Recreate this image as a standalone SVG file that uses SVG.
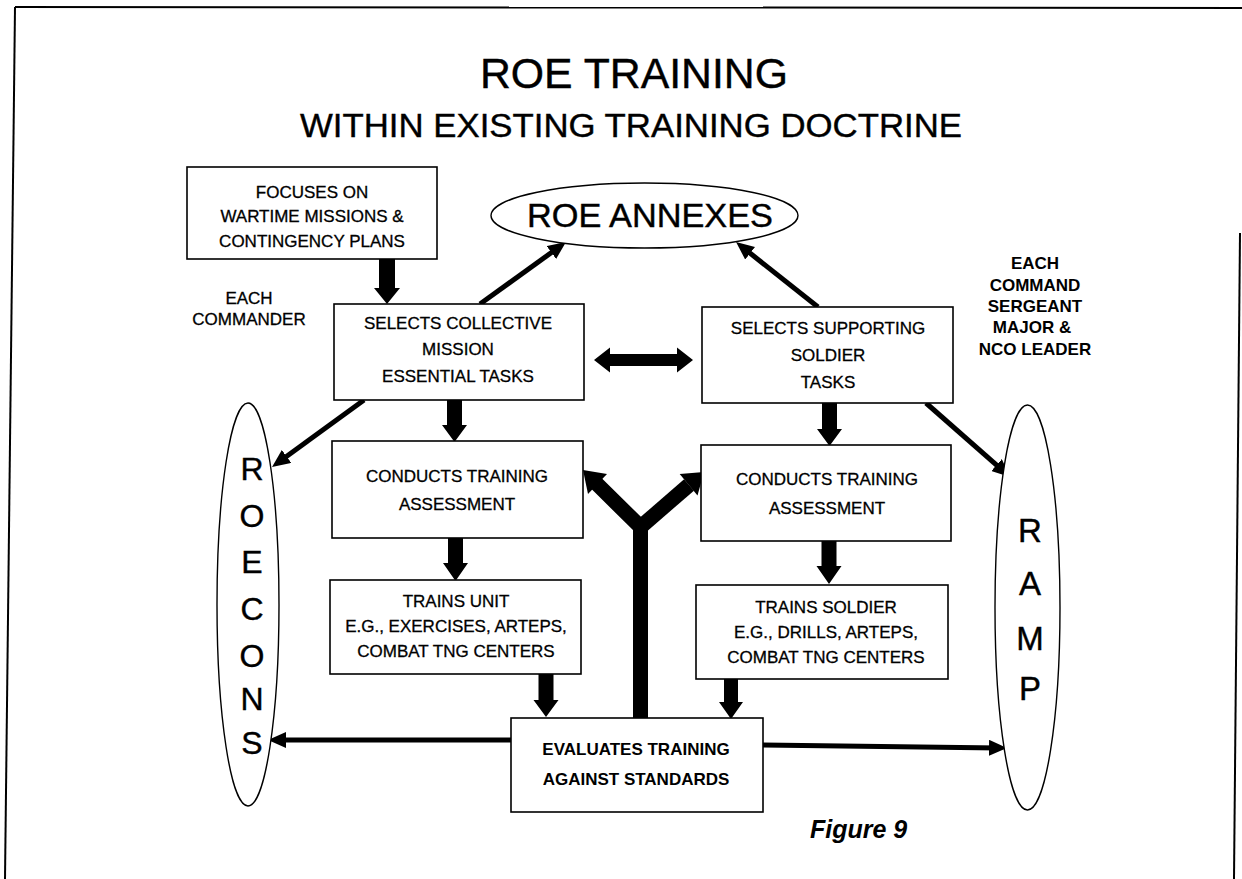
<svg xmlns="http://www.w3.org/2000/svg" width="1242" height="879" viewBox="0 0 1242 879">
  <style>
    .frame { fill: none; stroke: #000; stroke-width: 2; }
    .box { fill: #fff; stroke: #000; stroke-width: 1.6; }
    .oval { fill: #fff; stroke: #000; stroke-width: 1.4; }
    .t { font-family: "Liberation Sans", Arial, sans-serif; font-size: 17px; fill: #000; text-anchor: middle; stroke: #000; stroke-width: 0.3; }
    .tb { font-family: "Liberation Sans", Arial, sans-serif; font-size: 17px; font-weight: bold; fill: #000; text-anchor: middle; }
    .big { font-family: "Liberation Sans", Arial, sans-serif; fill: #000; text-anchor: middle; stroke: #000; stroke-width: 0.4; }
    .link { fill: none; stroke: #000; stroke-width: 5; marker-end: url(#head); }
    .block { fill: #000; stroke: none; }
    .thick { fill: none; stroke: #000; stroke-width: 15; stroke-linejoin: miter; }
  </style>
  <defs>
    <marker id="head" viewBox="0 0 18 16" refX="10" refY="8" markerWidth="18" markerHeight="16" markerUnits="userSpaceOnUse" orient="auto">
      <path d="M0,0 L18,8 L0,16 z" fill="#000"/>
    </marker>
  </defs>
  <rect width="1242" height="879" fill="#fff"/>

  <!-- page border -->
  <g id="border">
    <path class="frame" d="M15,7 L1242,8"/>
    <path class="frame" d="M15,7 L5,879"/>
    <path class="frame" d="M1240,233 L1234,879"/>
  </g>

  <!-- titles -->
  <g id="title">
    <text class="big" x="634" y="88" font-size="43" textLength="308" lengthAdjust="spacingAndGlyphs">ROE TRAINING</text>
    <text class="big" x="631" y="137" font-size="34" textLength="662" lengthAdjust="spacingAndGlyphs">WITHIN EXISTING TRAINING DOCTRINE</text>
  </g>

  <!-- connectors -->
  <g id="connectors">
    <!-- thin arrows -->
    <path class="link" d="M480,304 L559.5,246.7"/>
    <path class="link" d="M818,307 L742.3,247"/>
    <path class="link" d="M364,400 L278.5,462.3"/>
    <path class="link" d="M926,403 L1004,471.7"/>
    <path class="link" d="M511,740 L276,740"/>
    <path class="link" d="M763,745 L999,747.9"/>

    <!-- block down arrows -->
    <polygon class="block" points="379,259 395,259 395,288 400,288 387,304 374,288 379,288"/>
    <polygon class="block" points="447,400 462,400 462,425 467,425 454.5,442 442,425 447,425"/>
    <polygon class="block" points="448,538 463,538 463,563 468,563 455.5,581 443,563 448,563"/>
    <polygon class="block" points="538.5,674 553.5,674 553.5,700 558.5,700 546,717 533.5,700 538.5,700"/>
    <polygon class="block" points="822,403 837,403 837,429 842,429 829.5,446 817,429 822,429"/>
    <polygon class="block" points="821.5,541 836.5,541 836.5,566 841.5,566 829,584 816.5,566 821.5,566"/>
    <polygon class="block" points="724,679 738,679 738,702 743,702 731,719 719,702 724,702"/>

    <!-- double-headed arrow between selection boxes -->
    <polygon class="block" points="594,360 610,347.5 610,354 677,354 677,347.5 693,360 677,372.5 677,366 610,366 610,372.5"/>

    <!-- forked feedback arrow -->
    <path class="thick" d="M640.5,718 L640.5,527 L596,483"/>
    <path class="thick" d="M640.5,527 L689,485"/>
    <polygon class="block" points="583,470 607,474 588,494"/>
    <polygon class="block" points="704,472 697.5,495.6 679.7,474"/>
  </g>

  <!-- nodes -->
  <g id="focuses">
    <rect class="box" x="187" y="167" width="250" height="92"/>
    <text class="t" x="312" y="198">FOCUSES ON</text>
    <text class="t" x="312" y="222">WARTIME MISSIONS &amp;</text>
    <text class="t" x="312" y="247">CONTINGENCY PLANS</text>
  </g>

  <g id="each-commander">
    <text class="t" x="249" y="304">EACH</text>
    <text class="t" x="249" y="325">COMMANDER</text>
  </g>

  <g id="roe-annexes">
    <ellipse class="oval" cx="644.5" cy="215.5" rx="153.5" ry="32.5"/>
    <text class="big" x="650" y="227" font-size="33" textLength="246" lengthAdjust="spacingAndGlyphs">ROE ANNEXES</text>
  </g>

  <g id="selects-collective">
    <rect class="box" x="334" y="304" width="250" height="96"/>
    <text class="t" x="458" y="329">SELECTS COLLECTIVE</text>
    <text class="t" x="458" y="355">MISSION</text>
    <text class="t" x="458" y="382">ESSENTIAL TASKS</text>
  </g>

  <g id="selects-supporting">
    <rect class="box" x="702" y="307" width="251" height="96"/>
    <text class="t" x="828" y="334">SELECTS SUPPORTING</text>
    <text class="t" x="828" y="361">SOLDIER</text>
    <text class="t" x="828" y="388">TASKS</text>
  </g>

  <g id="each-csm">
    <text class="tb" x="1035" y="269">EACH</text>
    <text class="tb" x="1035" y="291">COMMAND</text>
    <text class="tb" x="1035" y="312">SERGEANT</text>
    <text class="tb" x="1032" y="333">MAJOR &amp;</text>
    <text class="tb" x="1035" y="355">NCO LEADER</text>
  </g>

  <g id="roecons">
    <ellipse class="oval" cx="248" cy="604.5" rx="31" ry="201.5"/>
    <g class="big" font-size="32">
      <text x="252" y="480">R</text>
      <text x="252" y="527">O</text>
      <text x="252" y="573">E</text>
      <text x="252" y="620">C</text>
      <text x="252" y="667">O</text>
      <text x="252" y="710">N</text>
      <text x="252" y="754">S</text>
    </g>
  </g>

  <g id="ramp">
    <ellipse class="oval" cx="1027.5" cy="607.5" rx="32.5" ry="202.5"/>
    <g class="big" font-size="33">
      <text x="1030" y="542">R</text>
      <text x="1030" y="595">A</text>
      <text x="1030" y="650">M</text>
      <text x="1030" y="700">P</text>
    </g>
  </g>

  <g id="conducts-unit">
    <rect class="box" x="332" y="441" width="251" height="97"/>
    <text class="t" x="457" y="482">CONDUCTS TRAINING</text>
    <text class="t" x="457" y="510">ASSESSMENT</text>
  </g>

  <g id="conducts-soldier">
    <rect class="box" x="701" y="445" width="250" height="96"/>
    <text class="t" x="827" y="485">CONDUCTS TRAINING</text>
    <text class="t" x="827" y="514">ASSESSMENT</text>
  </g>

  <g id="trains-unit">
    <rect class="box" x="330" y="580" width="251" height="94"/>
    <text class="t" x="456" y="607">TRAINS UNIT</text>
    <text class="t" x="456" y="632">E.G., EXERCISES, ARTEPS,</text>
    <text class="t" x="456" y="657">COMBAT TNG CENTERS</text>
  </g>

  <g id="trains-soldier">
    <rect class="box" x="696" y="585" width="252" height="94"/>
    <text class="t" x="826" y="613">TRAINS SOLDIER</text>
    <text class="t" x="826" y="638">E.G., DRILLS, ARTEPS,</text>
    <text class="t" x="826" y="663">COMBAT TNG CENTERS</text>
  </g>

  <g id="evaluates">
    <rect class="box" x="511" y="718" width="252" height="94"/>
    <text class="tb" x="636" y="755">EVALUATES TRAINING</text>
    <text class="tb" x="636" y="785">AGAINST STANDARDS</text>
  </g>

  <g id="caption">
    <text x="810" y="838" font-family="Liberation Sans, Arial, sans-serif" font-size="25" font-weight="bold" font-style="italic" fill="#000">Figure 9</text>
  </g>
</svg>
